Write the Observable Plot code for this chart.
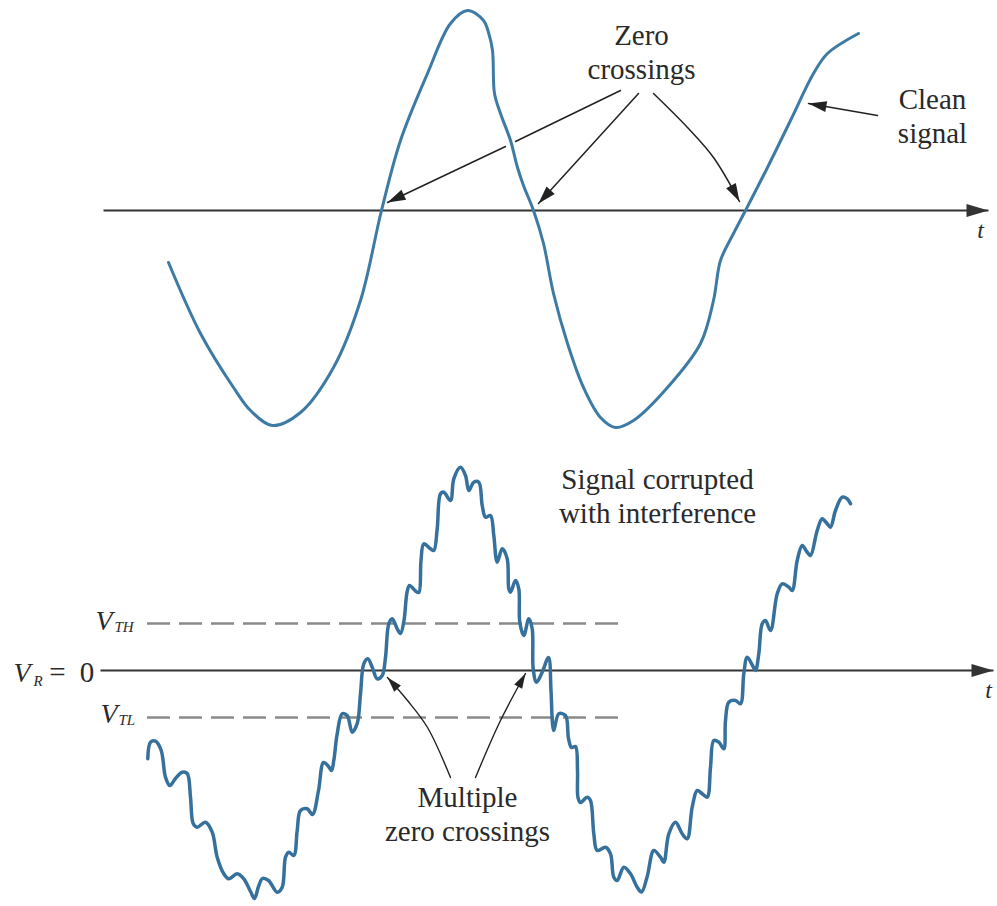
<!DOCTYPE html>
<html><head><meta charset="utf-8">
<script src="https://cdn.jsdelivr.net/npm/d3@7"></script>
<script src="https://cdn.jsdelivr.net/npm/@observablehq/plot@0.6"></script>
<style>
html,body{margin:0;padding:0;background:#fff;}
#chart{width:997px;height:906px;overflow:hidden;background:#fff}
#chart svg{display:block}
#chart svg text{font-family:"Liberation Serif","DejaVu Serif",serif;}
</style></head><body><div id="chart"></div>
<script>
// ---- Clean signal (time t, voltage v) ----
const cleanT = [0.68,1.00,1.33,1.50,1.72,2.00,2.33,2.60,2.81,3.00,3.27,3.50,3.67,3.83,3.88,3.92,3.94,4.00,4.10,4.17,4.23,4.33,4.43,4.53,4.67,4.83,5.00,5.15,5.33,5.67,6.00,6.13,6.20,6.33,6.45,6.67,6.90,7.13,7.27,7.58];
const cleanV = [-0.52,-1.23,-1.77,-2.00,-2.15,-2.02,-1.57,-0.90,0,0.70,1.37,1.87,2.00,1.90,1.78,1.60,1.17,0.97,0.70,0.43,0.25,0,-0.33,-0.83,-1.33,-1.77,-2.07,-2.17,-2.10,-1.77,-1.33,-0.90,-0.50,-0.23,0,0.43,0.90,1.37,1.57,1.77];

// ---- Signal corrupted with interference ----
const noisyT = [0.473,0.50,0.55,0.607,0.65,0.693,0.75,0.817,0.867,0.90,0.927,0.967,1.05,1.117,1.167,1.233,1.283,1.367,1.433,1.50,1.54,1.58,1.62,1.68,1.767,1.817,1.85,1.883,1.933,1.967,2.00,2.067,2.12,2.18,2.23,2.28,2.31,2.333,2.367,2.417,2.467,2.517,2.567,2.60,2.633,2.673,2.717,2.767,2.817,2.85,2.883,2.917,2.967,3.00,3.035,3.065,3.09,3.15,3.183,3.205,3.233,3.30,3.333,3.367,3.40,3.433,3.50,3.533,3.60,3.65,3.683,3.733,3.783,3.817,3.85,3.90,3.933,3.967,4.017,4.067,4.083,4.10,4.15,4.183,4.193,4.233,4.283,4.317,4.327,4.36,4.417,4.48,4.505,4.52,4.533,4.583,4.65,4.68,4.71,4.75,4.77,4.775,4.80,4.867,4.90,4.933,4.967,5.05,5.10,5.133,5.167,5.233,5.30,5.367,5.41,5.467,5.533,5.60,5.633,5.683,5.75,5.817,5.867,5.917,5.967,6.017,6.067,6.10,6.133,6.183,6.233,6.25,6.283,6.35,6.40,6.433,6.467,6.52,6.55,6.583,6.617,6.65,6.70,6.767,6.817,6.883,6.917,6.967,7.017,7.067,7.10,7.167,7.217,7.267,7.30,7.35,7.417,7.467,7.50];
const noisyV = [-0.883,-0.717,-0.707,-0.80,-1.067,-1.15,-1.08,-1.017,-1.03,-1.267,-1.53,-1.567,-1.517,-1.617,-1.867,-2.033,-2.083,-2.033,-2.083,-2.21,-2.28,-2.16,-2.08,-2.10,-2.217,-2.167,-1.867,-1.817,-1.85,-1.60,-1.40,-1.383,-1.44,-1.20,-0.92,-0.96,-1.00,-0.90,-0.633,-0.433,-0.45,-0.617,-0.53,-0.233,0.067,0.117,0.033,-0.083,-0.05,0.133,0.467,0.517,0.417,0.37,0.50,0.78,0.85,0.795,0.78,1.10,1.267,1.217,1.20,1.417,1.767,1.783,1.70,1.917,2.033,1.95,1.80,1.883,1.883,1.65,1.533,1.55,1.35,1.083,1.217,1.117,0.817,0.783,0.90,0.817,0.483,0.35,0.517,0.417,0.017,-0.117,-0.017,0.13,-0.20,-0.53,-0.60,-0.433,-0.45,-0.68,-0.77,-0.76,-1.00,-1.27,-1.32,-1.267,-1.30,-1.633,-1.80,-1.767,-1.833,-2.067,-2.10,-1.967,-2.033,-2.167,-2.215,-2.06,-1.80,-1.867,-1.917,-1.633,-1.517,-1.633,-1.683,-1.367,-1.20,-1.233,-1.267,-0.967,-0.70,-0.717,-0.783,-0.50,-0.317,-0.30,-0.333,-0.033,0.133,0.05,0.0,0.167,0.467,0.50,0.40,0.767,0.867,0.833,0.80,1.10,1.25,1.183,1.15,1.40,1.517,1.467,1.433,1.60,1.733,1.717,1.667];

// ---- thresholds and axes ----
const thresholds = [0.47, -0.47];          // V_TH, V_TL
const thresholdSpan = [0.47, 5.23];        // t extent of dashed threshold lines
const topAxis = [{t1: 0.03, t2: 8.88, v: 0}];
const bottomAxis = [{t1: 0.00, t2: 8.93, v: 0}];

// ---- annotation arrows (id, t, v) ----
const topArrows = [
  {id:"a1", t:4.05, v:0.64}, {id:"a1", t:2.87, v:0.08},
  {id:"a2", t:5.38, v:1.17}, {id:"a2", t:4.38, v:0.07},
  {id:"a3", t:5.53, v:1.17}, {id:"a3", t:5.87, v:0.83}, {id:"a3", t:6.13, v:0.53}, {id:"a3", t:6.39, v:0.09},
  {id:"a4", t:7.77, v:0.95}, {id:"a4", t:7.08, v:1.07}
];
const topArrowTail = [{t:5.20, v:1.20}, {t:4.15, v:0.69}];
const bottomArrows = [
  {id:"b1", t:3.50, v:-1.07}, {id:"b1", t:3.27, v:-0.57}, {id:"b1", t:3.07, v:-0.30}, {id:"b1", t:2.87, v:-0.07},
  {id:"b2", t:3.75, v:-1.07}, {id:"b2", t:4.00, v:-0.50}, {id:"b2", t:4.25, v:-0.03}
];

// ---- text labels ----
const topLabels = [
  {text:"Zero\ncrossings", t:5.41, v:1.32},
  {text:"Clean\nsignal", t:8.32, v:0.68}
];
const bottomLabels = [
  {text:"Signal corrupted\nwith interference", t:5.57, v:1.48},
  {text:"Multiple\nzero crossings", t:3.67, v:-1.70}
];
const axisNames = {top:{text:"t", t:8.80, v:-0.27}, bottom:{text:"t", t:8.88, v:-0.27}};
const levelMain = [{text:"V", t:-0.05, v:0.41}, {text:"V", t:-0.87, v:-0.11}, {text:"V", t:0.00, v:-0.52}];
const levelSub  = [{text:"TH", t:0.14, v:0.39}, {text:"R", t:-0.67, v:-0.15}, {text:"TL", t:0.18, v:-0.54}];
const levelEq   = [{text:"=", t:-0.43, v:-0.11}, {text:"0", t:-0.135, v:-0.11}];

const SERIF = "Liberation Serif";
const INK = "#2a2a2a";

function filledHead(len, half) {
  return function(color) {
    const ns = "http://www.w3.org/2000/svg";
    const m = document.createElementNS(ns, "marker");
    m.setAttribute("viewBox", `${-len} ${-half} ${len} ${2*half}`);
    m.setAttribute("markerWidth", len);
    m.setAttribute("markerHeight", 2*half);
    m.setAttribute("markerUnits", "userSpaceOnUse");
    m.setAttribute("refX", 0);
    m.setAttribute("refY", 0);
    m.setAttribute("orient", "auto");
    m.setAttribute("overflow", "visible");
    const p = document.createElementNS(ns, "path");
    p.setAttribute("d", `M${-len},${-half}L0,0L${-len},${half}Z`);
    p.setAttribute("fill", color);
    p.setAttribute("stroke", "none");
    m.appendChild(p);
    return m;
  };
}

const xScale = {domain: [-1, 8.97], axis: null};
const idx = (a) => a.map((_, i) => i);

const topChart = Plot.plot({
  width: 997, height: 450, margin: 0,
  x: xScale,
  y: {domain: [-2.4, 2.1], axis: null},
  style: {background: "#fff", overflow: "visible", fontFamily: "Liberation Serif"},
  marks: [
    Plot.link(topAxis, {x1: "t1", x2: "t2", y1: "v", y2: "v", stroke: "#333", strokeWidth: 2, markerEnd: filledHead(22, 6.5)}),
    Plot.line(topArrowTail, {x: "t", y: "v", stroke: "#222", strokeWidth: 1.5}),
    Plot.line(topArrows, {x: "t", y: "v", z: "id", curve: "catmull-rom", stroke: "#222", strokeWidth: 1.5, markerEnd: filledHead(18, 5.5)}),
    Plot.line(idx(cleanT), {x: cleanT, y: cleanV, curve: "catmull-rom", stroke: "#3d7ba5", strokeWidth: 3}),
    Plot.text(topLabels, {x: "t", y: "v", text: "text", lineAnchor: "bottom", lineHeight: 1.15, fontSize: 29, fontFamily: SERIF, fill: INK}),
    Plot.text([axisNames.top], {x: "t", y: "v", text: "text", lineAnchor: "bottom", fontSize: 24, fontStyle: "italic", fontFamily: SERIF, fill: INK})
  ]
});

const bottomChart = Plot.plot({
  width: 997, height: 456, margin: 0,
  x: xScale,
  y: {domain: [-2.36, 2.2], axis: null},
  style: {background: "#fff", overflow: "visible", fontFamily: "Liberation Serif"},
  marks: [
    Plot.ruleY(thresholds, {x1: thresholdSpan[0], x2: thresholdSpan[1], stroke: "#8a8a8a", strokeWidth: 2.5, strokeDasharray: "23,9"}),
    Plot.link(bottomAxis, {x1: "t1", x2: "t2", y1: "v", y2: "v", stroke: "#333", strokeWidth: 2, markerEnd: filledHead(22, 6.5)}),
    Plot.line(bottomArrows, {x: "t", y: "v", z: "id", curve: "catmull-rom", stroke: "#222", strokeWidth: 1.4, markerEnd: filledHead(15, 4.5)}),
    Plot.line(idx(noisyT), {x: noisyT, y: noisyV, curve: "catmull-rom", stroke: "#35719c", strokeWidth: 3.5}),
    Plot.text(bottomLabels, {x: "t", y: "v", text: "text", lineAnchor: "bottom", lineHeight: 1.14, fontSize: 29, fontFamily: SERIF, fill: INK}),
    Plot.text([axisNames.bottom], {x: "t", y: "v", text: "text", lineAnchor: "bottom", fontSize: 24, fontStyle: "italic", fontFamily: SERIF, fill: INK}),
    Plot.text(levelMain, {x: "t", y: "v", text: "text", textAnchor: "start", lineAnchor: "bottom", fontSize: 28, fontStyle: "italic", fontFamily: SERIF, fill: INK}),
    Plot.text(levelSub, {x: "t", y: "v", text: "text", textAnchor: "start", lineAnchor: "bottom", fontSize: 15, fontStyle: "italic", fontFamily: SERIF, fill: INK}),
    Plot.text(levelEq, {x: "t", y: "v", text: "text", textAnchor: "middle", lineAnchor: "bottom", fontSize: 29, fontFamily: SERIF, fill: INK})
  ]
});

document.getElementById("chart").append(topChart, bottomChart);
</script>
</body></html>
